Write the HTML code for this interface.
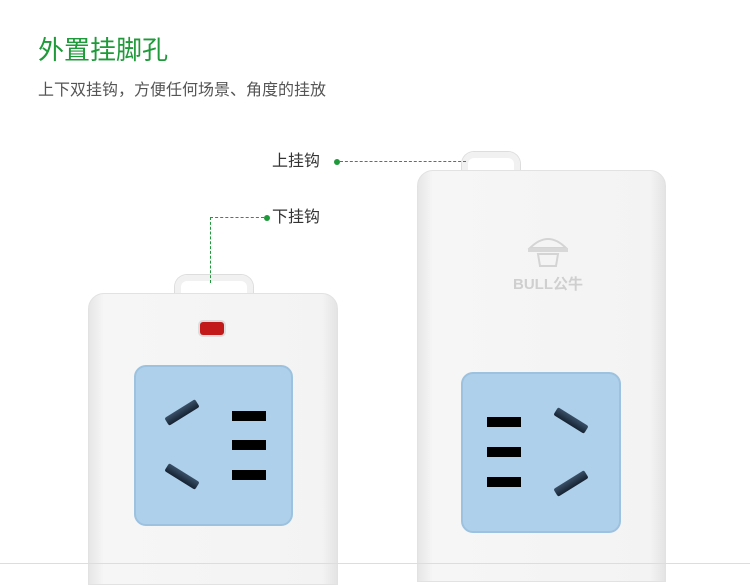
<!DOCTYPE html>
<html><head><meta charset="utf-8"><style>
body{margin:0;width:750px;height:568px;background:#fff;position:relative;overflow:hidden;font-family:"Liberation Sans","Noto Sans CJK SC",sans-serif}
.a{position:absolute}
.t{left:38px;top:34px;font-size:26px;color:#1f9a3a;line-height:32px}
.s{left:38px;top:80px;font-size:16px;color:#555;line-height:22px}
.lb{font-size:16px;color:#333;line-height:20px}
.body{background:linear-gradient(90deg,#e6e6e6 0,#f6f6f6 6%,#f3f3f3 94%,#e4e4e4 100%);border-radius:16px 16px 0 0;border:1px solid #e2e2e2}
.hook{border:6px solid #f1f1f1;border-bottom:none;border-radius:12px 12px 0 0;box-shadow:0 0 0 1px #ddd}
.sock{background:#aed0ea;border:2px solid #9cc2df;border-radius:12px}
.sl{background:#000;width:34px;height:10px}
.pin{background:linear-gradient(#3a5068,#152232);width:36px;height:9px;border-radius:2px}
</style></head><body>
<div class="a t">外置挂脚孔</div>
<div class="a s">上下双挂钩，方便任何场景、角度的挂放</div>

<!-- left strip -->
<div class="a hook" style="left:175px;top:275px;width:66px;height:20px"></div>
<div class="a body" style="left:88px;top:293px;width:248px;height:290px"></div>
<div class="a" style="left:200px;top:322px;width:24px;height:13px;background:#c21a1a;border-radius:3px;box-shadow:0 0 0 2px #ddd"></div>
<div class="a sock" style="left:134px;top:365px;width:155px;height:157px"></div>
<div class="a pin" style="left:164px;top:408px;transform:rotate(-32deg)"></div>
<div class="a pin" style="left:164px;top:472px;transform:rotate(32deg)"></div>
<div class="a sl" style="left:232px;top:411px"></div>
<div class="a sl" style="left:232px;top:440px"></div>
<div class="a sl" style="left:232px;top:470px"></div>

<!-- right strip -->
<div class="a hook" style="left:462px;top:152px;width:46px;height:20px"></div>
<div class="a body" style="left:417px;top:170px;width:247px;height:410px"></div>
<svg class="a" style="left:498px;top:232px" width="100" height="62">
<path d="M32 16 Q50 -2 68 16 Z" fill="none" stroke="#d4d4d4" stroke-width="2"/>
<rect x="30" y="16" width="40" height="4" fill="#d8d8d8"/>
<path d="M40 22 L60 22 L58 34 L42 34 Z" fill="none" stroke="#d4d4d4" stroke-width="2"/>
<text x="50" y="57" text-anchor="middle" font-size="15" fill="#cfcfcf" font-family="Liberation Sans,Noto Sans CJK SC,sans-serif" font-weight="bold">BULL公牛</text>
</svg>
<div class="a sock" style="left:461px;top:372px;width:156px;height:157px"></div>
<div class="a sl" style="left:487px;top:417px"></div>
<div class="a sl" style="left:487px;top:447px"></div>
<div class="a sl" style="left:487px;top:477px"></div>
<div class="a pin" style="left:553px;top:416px;transform:rotate(32deg)"></div>
<div class="a pin" style="left:553px;top:479px;transform:rotate(-32deg)"></div>

<div class="a" style="left:0;top:563px;width:750px;height:1px;background:#ddd"></div>

<!-- callouts -->
<div class="a lb" style="left:272px;top:152px">上挂钩</div>
<div class="a" style="left:334px;top:159px;width:6px;height:6px;border-radius:50%;background:#1f9a3a"></div>
<div class="a" style="left:340px;top:161px;width:126px;border-top:1px dashed #1f9a3a"></div>
<div class="a lb" style="left:272px;top:208px">下挂钩</div>
<div class="a" style="left:264px;top:215px;width:6px;height:6px;border-radius:50%;background:#1f9a3a"></div>
<div class="a" style="left:210px;top:217px;width:54px;border-top:1px dashed #1f9a3a"></div>
<div class="a" style="left:210px;top:217px;height:66px;border-left:1px dashed #1f9a3a"></div>
</body></html>
